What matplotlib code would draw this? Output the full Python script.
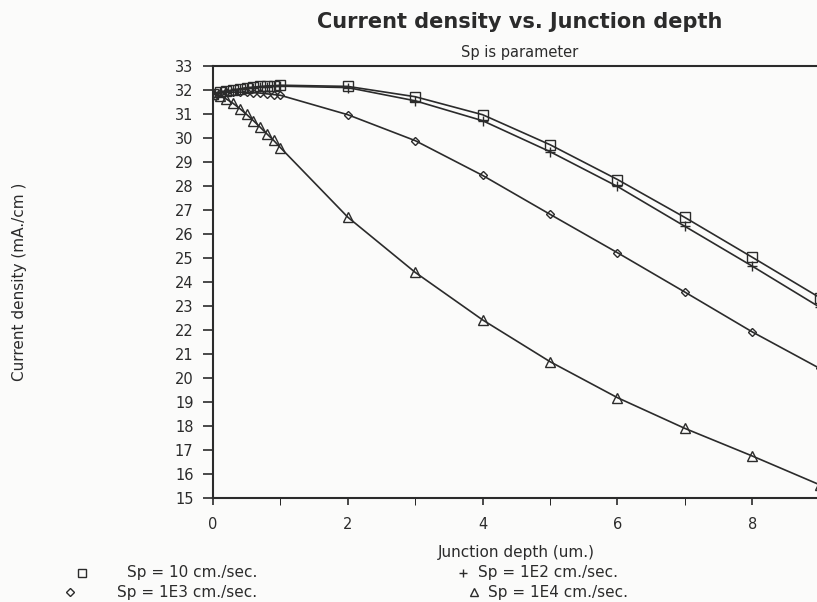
import matplotlib.pyplot as plt

# Junction depth (um.) : dense steps up to 1 um, then whole microns
depth = [0.0, 0.1, 0.2, 0.3, 0.4, 0.5, 0.6, 0.7, 0.8, 0.9, 1.0,
         2, 3, 4, 5, 6, 7, 8, 9]

# Current density (mA/cm2) for each surface recombination velocity Sp
j_sp10 = [31.85, 31.9, 31.95, 32.0, 32.05, 32.1, 32.12, 32.15, 32.17, 32.18, 32.2,
          32.15, 31.72, 30.97, 29.72, 28.27, 26.69, 25.03, 23.35]
j_sp1e2 = [31.85, 31.9, 31.94, 31.99, 32.03, 32.07, 32.1, 32.12, 32.14, 32.15, 32.16,
           32.1, 31.55, 30.72, 29.43, 27.98, 26.32, 24.66, 22.95]
j_sp1e3 = [31.85, 31.88, 31.9, 31.91, 31.91, 31.9, 31.89, 31.87, 31.84, 31.81, 31.78,
           30.97, 29.89, 28.44, 26.82, 25.22, 23.58, 21.92, 20.4]
j_sp1e4 = [31.85, 31.76, 31.62, 31.44, 31.22, 30.98, 30.72, 30.45, 30.17, 29.9, 29.6,
           26.7, 24.4, 22.42, 20.68, 19.18, 17.9, 16.75, 15.55]

series = [
    (j_sp10, 's', 'Sp = 10 cm./sec.'),
    (j_sp1e2, '+', 'Sp = 1E2 cm./sec.'),
    (j_sp1e3, 'D', 'Sp = 1E3 cm./sec.'),
    (j_sp1e4, '^', 'Sp = 1E4 cm./sec.'),
]

ink = '#2b2b2b'
fig = plt.figure(figsize=(8.17, 6.02), dpi=100, facecolor='#fbfbfa')
ax = fig.add_axes([213 / 817, 1 - 498 / 602, 604 / 817, 432 / 602])
ax.set_facecolor('#fbfbfa')

for vals, mk, lab in series:
    ms = 4.5 if mk == 'D' else 6.5
    ax.plot(depth, vals, color=ink, lw=1.2, marker=mk, ms=ms,
            mfc='none', mec=ink, mew=1.0)

ax.set_xlim(0, 8.96)
ax.set_ylim(15, 33)
ax.set_xticks([0, 2, 4, 6, 8])
ax.set_xticks([1, 3, 5, 7], minor=True)
ax.set_yticks(range(15, 34))
ax.tick_params(axis='both', colors=ink, labelsize=10.5, width=1.2)
ax.tick_params(axis='x', which='both', length=5, pad=9)
ax.tick_params(axis='y', length=7, pad=7)
for side in ['left', 'bottom', 'top']:
    ax.spines[side].set_linewidth(1.5)
    ax.spines[side].set_color(ink)
ax.spines['right'].set_visible(False)

# titles
fig.text(520 / 817, 1 - 22 / 602, 'Current density vs. Junction depth',
         ha='center', va='center', fontsize=15, color=ink, fontweight='bold')
fig.text(520 / 817, 1 - 53 / 602, 'Sp is parameter',
         ha='center', va='center', fontsize=10.5, color=ink)
fig.text(20 / 817, 1 - 282 / 602, 'Current density (mA./cm )', rotation=90,
         ha='center', va='center', fontsize=11, color=ink)
fig.text(516 / 817, 1 - 553 / 602, 'Junction depth (um.)',
         ha='center', va='center', fontsize=11, color=ink)

# legend rows under the axis: (marker, marker x, y, text x, alignment)
legend_rows = [
    ('s', 82, 573, 257, 'right', series[0][2]),
    ('D', 70, 592, 257, 'right', series[2][2]),
    ('+', 463, 573, 478, 'left', series[1][2]),
    ('^', 474, 592, 488, 'left', series[3][2]),
]
for mk, mx, my, tx, ha, lab in legend_rows:
    ms = 4 if mk == 'D' else 6
    fig.lines.append(plt.Line2D([mx / 817], [1 - my / 602], marker=mk, ms=ms,
                                mfc='none', mec=ink, mew=1.0, ls='none',
                                transform=fig.transFigure))
    fig.text(tx / 817, 1 - my / 602, lab, ha=ha, va='center',
             fontsize=11, color=ink)

fig.savefig('out.png', dpi=100, facecolor=fig.get_facecolor())
